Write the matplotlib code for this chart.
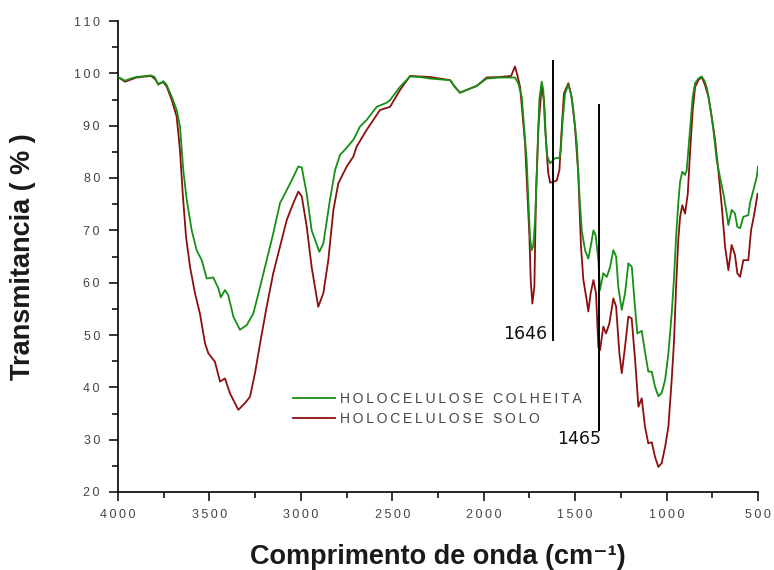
import matplotlib
matplotlib.use("Agg")
import matplotlib.pyplot as plt
from matplotlib.ticker import MultipleLocator, FixedLocator, FixedFormatter

# ---------------- data ----------------
wn_colheita = [4000, 3962, 3930, 3900, 3850, 3820, 3800, 3780, 3752, 3734, 3706, 3679, 3661, 3643,
               3624, 3597, 3570, 3542, 3515, 3479, 3451, 3438, 3415, 3397, 3369, 3333, 3296, 3260,
               3223, 3187, 3151, 3114, 3077, 3041, 3014, 2995, 2968, 2941, 2899, 2877, 2841, 2813,
               2786, 2749, 2713, 2677, 2640, 2585, 2530, 2512, 2458, 2403, 2350, 2294, 2184, 2160,
               2130, 2080, 2038, 1984, 1911, 1829, 1811, 1792, 1774, 1765, 1756, 1747, 1738, 1729,
               1719, 1707, 1696, 1683, 1674, 1665, 1652, 1637, 1610, 1586, 1579, 1568, 1555, 1537,
               1524, 1510, 1491, 1477, 1464, 1446, 1428, 1415, 1400, 1388, 1373, 1364, 1346, 1327,
               1309, 1291, 1276, 1264, 1245, 1227, 1209, 1190, 1172, 1160, 1136, 1118, 1100, 1081,
               1063, 1045, 1027, 1008, 990, 972, 959, 948, 936, 926, 914, 899, 890, 872, 857, 844,
               826, 808, 790, 777, 762, 744, 726, 708, 689, 671, 662, 644, 626, 613, 598, 580, 553,
               544, 525, 507, 500]
t_colheita = [99.3, 98.6, 99.0, 99.3, 99.5, 99.6, 99.3, 97.8, 98.5, 97.8, 95.5, 93.0, 89.8, 81.5,
              75.8, 70.0, 66.2, 64.3, 60.8, 61.0, 58.9, 57.2, 58.6, 57.6, 53.5, 51.0, 51.9, 54.1,
              59.2, 64.3, 69.4, 75.2, 77.7, 80.2, 82.2, 82.0, 77.0, 70.0, 65.9, 67.5, 75.8, 81.5,
              84.4, 85.8, 87.3, 89.8, 91.1, 93.6, 94.4, 94.9, 97.4, 99.4, 99.3, 99.0, 98.7, 97.5,
              96.3, 97.0, 97.6, 99.0, 99.2, 99.2, 98.1, 95.5, 87.3, 83.4, 75.8, 68.8, 66.2, 67.0,
              72.0, 83.4, 94.9, 98.4, 96.8, 89.8, 84.1, 82.8, 83.8, 83.8, 85.3, 91.1, 96.2, 97.8,
              96.2, 93.0, 86.6, 77.0, 70.0, 66.2, 64.6, 66.9, 70.0, 69.1, 64.3, 58.6, 61.8, 61.1,
              63.0, 66.2, 65.0, 59.2, 54.8, 58.0, 63.7, 63.0, 55.0, 50.3, 50.8, 46.8, 43.0, 43.0,
              40.1, 38.3, 38.9, 41.4, 46.5, 54.1, 61.1, 68.8, 75.2, 79.3, 81.2, 80.6, 81.5, 89.2,
              95.5, 98.1, 99.0, 99.4, 98.4, 96.8, 93.6, 89.2, 83.4, 80.2, 77.0, 73.2, 71.0, 73.9,
              73.2, 70.7, 70.4, 72.6, 72.9, 75.2, 77.7, 80.2, 82.2]

wn_solo = [4000, 3962, 3930, 3900, 3850, 3820, 3800, 3780, 3752, 3734, 3706, 3679, 3661, 3646,
           3628, 3606, 3579, 3552, 3524, 3506, 3470, 3442, 3415, 3387, 3342, 3305, 3278, 3251,
           3223, 3187, 3151, 3114, 3077, 3041, 3014, 2995, 2968, 2941, 2905, 2877, 2850, 2822,
           2795, 2749, 2713, 2695, 2640, 2567, 2512, 2458, 2403, 2350, 2294, 2184, 2160, 2130,
           2080, 2038, 1984, 1911, 1850, 1829, 1815, 1801, 1774, 1761, 1750, 1743, 1734, 1723,
           1714, 1701, 1683, 1670, 1659, 1647, 1637, 1601, 1586, 1573, 1561, 1537, 1519, 1501,
           1483, 1468, 1455, 1437, 1428, 1415, 1400, 1386, 1373, 1364, 1346, 1331, 1313, 1291,
           1276, 1258, 1245, 1227, 1209, 1191, 1172, 1154, 1136, 1118, 1100, 1081, 1063, 1045,
           1027, 1008, 990, 972, 959, 948, 936, 926, 914, 899, 884, 872, 857, 844, 826, 808, 790,
           771, 753, 735, 717, 698, 680, 662, 644, 626, 613, 598, 580, 553, 538, 520, 502]
t_solo = [99.3, 98.4, 98.8, 99.2, 99.4, 99.5, 99.0, 98.0, 98.3, 97.5, 94.9, 91.7, 85.3, 77.0,
          68.8, 63.0, 58.0, 54.1, 48.4, 46.5, 44.9, 41.1, 41.7, 38.8, 35.7, 37.0, 38.2, 42.7,
          48.4, 55.4, 61.8, 66.9, 72.0, 75.2, 77.4, 76.5, 70.7, 63.0, 55.4, 58.0, 64.3, 73.9,
          79.0, 82.2, 84.1, 86.0, 89.2, 93.0, 93.6, 96.8, 99.5, 99.4, 99.3, 98.7, 97.5, 96.3,
          97.0, 97.6, 99.2, 99.3, 99.5, 101.3, 99.5, 97.4, 86.6, 77.0, 68.8, 60.5, 56.0, 59.2,
          77.0, 89.8, 97.4, 94.9, 86.6, 80.9, 79.1, 79.5, 81.5, 89.8, 96.2, 98.1, 95.5, 89.8,
          80.9, 66.9, 60.5, 56.7, 54.5, 58.0, 60.5, 58.0, 47.7, 47.1, 51.6, 50.3, 52.2, 57.0,
          55.4, 46.5, 42.7, 47.8, 53.5, 53.2, 45.2, 36.3, 37.9, 32.5, 29.3, 29.5, 26.7, 24.8,
          25.5, 28.6, 32.5, 41.4, 49.0, 59.2, 68.2, 72.6, 74.8, 73.2, 77.0, 84.7, 93.0, 97.4,
          98.7, 99.3, 97.8, 95.5, 91.7, 87.3, 81.5, 74.5, 66.9, 62.4, 67.2, 65.3, 61.8, 61.1,
          64.3, 64.3, 70.0, 73.2, 77.0]

series_labels = ["HOLOCELULOSE COLHEITA", "HOLOCELULOSE SOLO"]
series_colors = ["#159015", "#8c0f0f"]

# peak markers (vertical lines with labels)
marker_labels = ["1646", "1465"]
marker_x = [1621, 1368]
marker_top = [102.4, 94.0]
marker_bottom = [49.0, 31.8]

x_ticks = [4000, 3500, 3000, 2500, 2000, 1500, 1000, 500]
x_ticklabels = ["4000", "3500", "3000", "2500", "2000", "1500", "1000", "500"]
y_ticks = [20, 30, 40, 50, 60, 70, 80, 90, 100, 110]
y_ticklabels = ["20", "30", "40", "50", "60", "70", "80", "90", "100", "110"]

x_title = "Comprimento de onda (cm\u207b\u00b9)"
y_title = "Transmitancia ( % )"

# ---------------- style ----------------
SP = "\u2009"
def spaced(s):
    return SP.join(s)

fig = plt.figure(figsize=(7.74, 5.70), dpi=100)
ax = fig.add_axes([118 / 774, 1 - 492 / 570, 640 / 774, 471 / 570])

ax.plot(wn_solo, t_solo, color=series_colors[1], lw=1.3, label=spaced(series_labels[1]), zorder=2)
ax.plot(wn_colheita, t_colheita, color=series_colors[0], lw=1.3, label=spaced(series_labels[0]), zorder=3)

ax.set_xlim(4000, 500)
ax.set_ylim(20, 110)

for sp in ["top", "right"]:
    ax.spines[sp].set_visible(False)
for sp in ["left", "bottom"]:
    ax.spines[sp].set_linewidth(1.2)
    ax.spines[sp].set_color("black")

ax.xaxis.set_major_locator(FixedLocator(x_ticks))
ax.xaxis.set_major_formatter(FixedFormatter([spaced(s) for s in x_ticklabels]))
ax.xaxis.set_minor_locator(MultipleLocator(250))
ax.yaxis.set_major_locator(FixedLocator(y_ticks))
ax.yaxis.set_major_formatter(FixedFormatter([spaced(s) for s in y_ticklabels]))
ax.yaxis.set_minor_locator(MultipleLocator(5))

ax.tick_params(which="major", direction="out", length=6.5, width=1.1, color="black",
               labelsize=9, labelcolor="#444444")
ax.tick_params(which="minor", direction="out", length=4, width=1.1, color="black")
ax.tick_params(axis="y", which="major", pad=6.5)
ax.tick_params(axis="x", which="major", pad=5.8)
for lab in ax.get_xticklabels() + ax.get_yticklabels():
    lab.set_family(["Liberation Sans", "DejaVu Sans"])

ax.set_xlabel(x_title, fontsize=19.5, fontweight="bold",
              family=["Liberation Sans", "DejaVu Sans"], color="#1a1a1a")
ax.set_ylabel(y_title, fontsize=19.5, fontweight="bold",
              family="Liberation Sans", color="#1a1a1a")
ax.xaxis.set_label_coords(0.5, -0.11)
ax.yaxis.set_label_coords(-0.128, 0.5)

# vertical peak markers
for lab, xm, yt, yb in zip(marker_labels, marker_x, marker_top, marker_bottom):
    ax.plot([xm, xm], [yb, yt], color="black", lw=1.4, zorder=4)
ax.annotate(marker_labels[0], xy=(marker_x[0], marker_bottom[0]), xytext=(-4, 1),
            textcoords="offset points", ha="right", va="baseline", fontsize=12.5,
            family="DejaVu Sans", color="#111111")
ax.annotate(marker_labels[1], xy=(marker_x[1], marker_bottom[1]), xytext=(1, 0),
            textcoords="offset points", ha="right", va="top", fontsize=12.5,
            family="DejaVu Sans", color="#111111")

handles, labels = ax.get_legend_handles_labels()
leg = ax.legend(handles[::-1], labels[::-1], loc="center left",
                bbox_to_anchor=(293 / 774, 1 - 408.7 / 570), bbox_transform=fig.transFigure,
                frameon=False, borderpad=0, borderaxespad=0, handlelength=3.0,
                handletextpad=0.35, labelspacing=0.45,
                prop={"family": ["Liberation Sans", "DejaVu Sans"], "size": 10})
for t in leg.get_texts():
    t.set_color("#444444")

fig.savefig("out.png", dpi=100)
